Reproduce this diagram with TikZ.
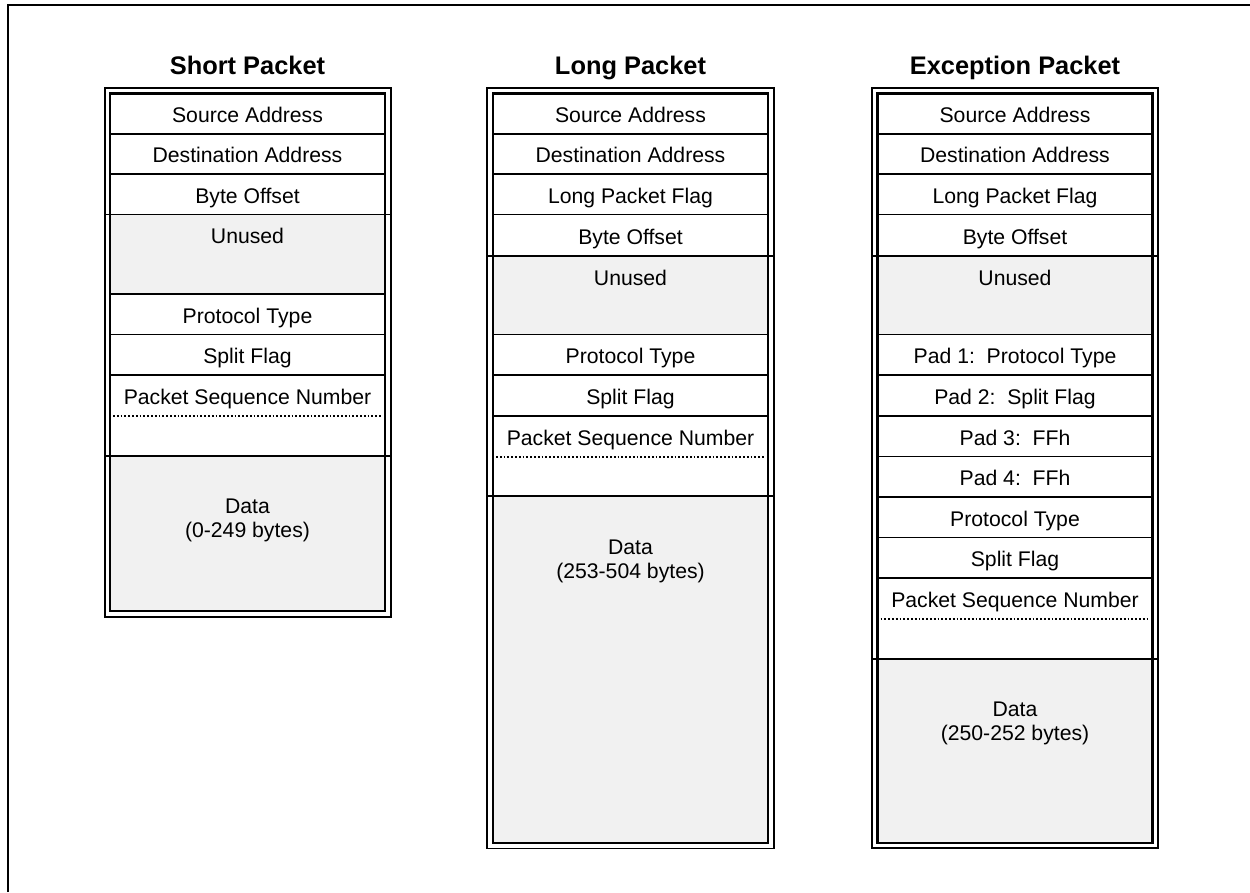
\documentclass[tikz,border=0pt]{standalone}
\usepackage{fontspec}
\setmainfont{Liberation Sans}
\newcommand\fieldfont{\fontsize{21.2}{24}\selectfont}
\newcommand\headfont{\fontsize{25.4}{30}\selectfont\bfseries}
\definecolor{cellgray}{HTML}{F1F1F1}
\tikzset{
  field/.style={draw, line width=1.9pt, inner sep=0pt, outer sep=0pt,
    minimum width=275pt, anchor=north, font=\fieldfont,
    text height=20pt, text depth=1.6pt},
  spare/.style={field, fill=cellgray},
  celltext/.style={inner sep=0pt, outer sep=0pt, anchor=north, font=\fieldfont,
    minimum height=40.5pt, text height=20pt, text depth=1.6pt},
  datatext/.style={inner sep=0pt, outer sep=0pt, anchor=north, font=\fieldfont,
    align=center},
  innerbox/.style={draw, line width=2.9pt, inner sep=0pt, outer sep=0pt,
    minimum width=275pt, anchor=north},
  outerbox/.style={draw, line width=1.9pt, inner sep=0pt, outer sep=0pt,
    minimum width=286.5pt, anchor=north},
  groupline/.style={line width=1.9pt},
  dotline/.style={line width=2pt, dash pattern=on 1.8pt off 2pt},
  heading/.style={font=\headfont, anchor=base, inner sep=0pt},
}
\begin{document}
\begin{tikzpicture}[x=1pt, y=-1pt]
\useasboundingbox (0,0) rectangle (1250,892);

% page frame (left and top edges)
\draw[line width=2.2pt] (8,892) -- (8,5) -- (1250,5);

% ---------------- Short packet ----------------
\node[heading] (shead) at (247.5,74) {Short Packet};
\node[field, minimum height=40.5pt] (s1) at (247.5,93.5) {Source Address};
\node[field, minimum height=40.5pt] (s2) at (247.5,133.5) {Destination Address};
\node[field, minimum height=40.5pt] (s3) at (247.5,174) {Byte Offset};
\node[spare, minimum height=79.5pt] (s4) at (247.5,214.5) {};
\node[celltext] (s4t) at (s4.north) {Unused};
\node[field, minimum height=40.5pt] (s5) at (247.5,294) {Protocol Type};
\node[field, minimum height=40.5pt] (s6) at (247.5,334.5) {Split Flag};
\node[field, minimum height=81pt] (s7) at (247.5,375) {};
\node[celltext] (s7t) at (s7.north) {Packet Sequence Number};
\draw[dotline] ([xshift=3pt,yshift=-41pt]s7.north west) -- ([xshift=-3pt,yshift=-41pt]s7.north east);
\node[spare, minimum height=155pt] (s8) at (247.5,456) {};
\node[datatext] (s8t) at ([yshift=-42.5pt]s8.north) {Data\\(0-249 bytes)};
\node[innerbox, minimum height=517.5pt] (sin) at (247.5,93.5) {};
\node[outerbox, minimum height=529pt] (sout) at (247.8,88) {};
\draw[groupline] (sout.west |- s4.north) -- (sout.east |- s4.north);
\draw[groupline] (sout.west |- s8.north) -- (sout.east |- s8.north);

% ---------------- Long packet ----------------
\node[heading] (lhead) at (630.5,74) {Long Packet};
\node[field, minimum height=40.5pt] (l1) at (630.5,93.5) {Source Address};
\node[field, minimum height=40.5pt] (l2) at (630.5,133.5) {Destination Address};
\node[field, minimum height=40.5pt] (l3) at (630.5,174) {Long Packet Flag};
\node[field, minimum height=41.5pt] (l4) at (630.5,214.5) {Byte Offset};
\node[spare, minimum height=78.5pt] (l5) at (630.5,256) {};
\node[celltext] (l5t) at (l5.north) {Unused};
\node[field, minimum height=40.5pt] (l6) at (630.5,334.5) {Protocol Type};
\node[field, minimum height=41pt] (l7) at (630.5,375) {Split Flag};
\node[field, minimum height=80pt] (l8) at (630.5,416) {};
\node[celltext] (l8t) at (l8.north) {Packet Sequence Number};
\draw[dotline] ([xshift=3pt,yshift=-40.5pt]l8.north west) -- ([xshift=-3pt,yshift=-40.5pt]l8.north east);
\node[spare, minimum height=347pt] (l9) at (630.5,496) {};
\node[datatext] (l9t) at ([yshift=-44pt]l9.north) {Data\\(253-504 bytes)};
\node[innerbox, minimum height=749.5pt] (lin) at (630.5,93.5) {};
\node[outerbox, minimum height=760.5pt] (lout) at (630.5,88) {};
\draw[groupline] (lout.west |- l5.north) -- (lout.east |- l5.north);
\draw[groupline] (lout.west |- l9.north) -- (lout.east |- l9.north);

% ---------------- Exception packet ----------------
\node[heading] (ehead) at (1015,74) {Exception Packet};
\node[field, minimum height=40.5pt] (e1) at (1015,93.5) {Source Address};
\node[field, minimum height=40.5pt] (e2) at (1015,133.5) {Destination Address};
\node[field, minimum height=40.5pt] (e3) at (1015,174) {Long Packet Flag};
\node[field, minimum height=41.5pt] (e4) at (1015,214.5) {Byte Offset};
\node[spare, minimum height=78.5pt] (e5) at (1015,256) {};
\node[celltext] (e5t) at (e5.north) {Unused};
\node[field, minimum height=40.5pt] (e6) at (1015,334.5) {Pad 1:\ \ Protocol Type};
\node[field, minimum height=41pt] (e7) at (1015,375) {Pad 2:\ \ Split Flag};
\node[field, minimum height=40.5pt] (e8) at (1015,416) {Pad 3:\ \ FFh};
\node[field, minimum height=40.5pt] (e9) at (1015,456.5) {Pad 4:\ \ FFh};
\node[field, minimum height=40.5pt] (e10) at (1015,497) {Protocol Type};
\node[field, minimum height=40.5pt] (e11) at (1015,537.5) {Split Flag};
\node[field, minimum height=81pt] (e12) at (1015,578) {};
\node[celltext] (e12t) at (e12.north) {Packet Sequence Number};
\draw[dotline] ([xshift=3pt,yshift=-40.5pt]e12.north west) -- ([xshift=-3pt,yshift=-40.5pt]e12.north east);
\node[spare, minimum height=184pt] (e13) at (1015,659) {};
\node[datatext] (e13t) at ([yshift=-42.5pt]e13.north) {Data\\(250-252 bytes)};
\node[innerbox, minimum height=749.5pt] (ein) at (1015,93.5) {};
\node[outerbox, minimum height=760pt] (eout) at (1015,88) {};
\draw[groupline] (eout.west |- e5.north) -- (eout.east |- e5.north);
\draw[groupline] (eout.west |- e13.north) -- (eout.east |- e13.north);
\end{tikzpicture}
\end{document}
